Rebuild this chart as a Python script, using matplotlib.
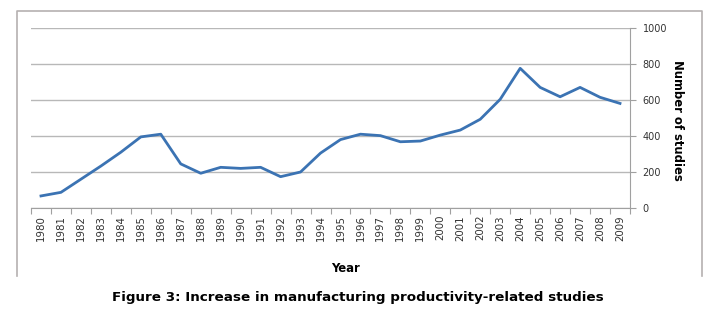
import matplotlib
matplotlib.use("Agg")
import matplotlib.pyplot as plt
from matplotlib.lines import Line2D

years = [str(y) for y in range(1980, 2010)]
studies = [67, 87, 160, 233, 310, 395, 410, 245, 193, 226,
           220, 226, 174, 200, 305, 380, 410, 402, 368, 372,
           405, 433, 493, 604, 776, 670, 618, 670, 615, 581]
yticks = [0, 200, 400, 600, 800, 1000]

fig = plt.figure(figsize=(7.06, 3.10), dpi=100)
ax = fig.add_axes([31 / 706, 1 - 208 / 310, 599 / 706, 180 / 310])

x = list(range(len(years)))
ax.plot(x, studies, color="#3b73b3", linewidth=2.0, solid_joinstyle="round")

ax.set_xlim(-0.5, len(years) - 0.5)
ax.set_ylim(0, 1000)
ax.set_yticks(yticks)
ax.yaxis.tick_right()
ax.yaxis.set_label_position("right")
ax.tick_params(axis="y", labelsize=7, labelcolor="#333333", length=4, color="#a0a0a0", pad=5)

# category axis: ticks between categories, labels at centres
ax.set_xticks([i - 0.5 for i in range(len(years) + 1)])
ax.set_xticklabels([])
ax.set_xticks(x, minor=True)
ax.set_xticklabels(years, minor=True, rotation=90, fontsize=7.4, color="#333333")
ax.tick_params(axis="x", which="major", length=4, color="#a0a0a0")
ax.tick_params(axis="x", which="minor", length=0, pad=5)

ax.grid(axis="y", color="#b8b8b8", linewidth=1.0)
ax.set_axisbelow(True)
for s in ["left", "top"]:
    ax.spines[s].set_visible(False)
ax.spines["bottom"].set_color("#a0a0a0")
ax.spines["right"].set_color("#a0a0a0")

ax.set_ylabel("Number of studies", rotation=-90, fontsize=8.4, fontweight="bold")
ax.set_xlabel("Year", fontsize=8.4, fontweight="bold")
ax.xaxis.set_label_coords((345 - 31) / 599, -(262 - 208) / 180)
ax.yaxis.set_label_coords((684 - 31) / 599, (208 - 120) / 180)

# chart area border (bottom edge not visible)
bx0, bx1 = 17 / 706, 702 / 706
by0, by1 = 1 - 276 / 310, 1 - 11 / 310
fig.add_artist(Line2D([bx0, bx0, bx1, bx1], [by0, by1, by1, by0],
                      transform=fig.transFigure, color="#b5b0b0", linewidth=1.2))

fig.text(358 / 706, 1 - 298 / 310, "Figure 3: Increase in manufacturing productivity-related studies",
         ha="center", va="center", fontsize=9.7, fontweight="bold")

fig.savefig("out.png", dpi=100)
